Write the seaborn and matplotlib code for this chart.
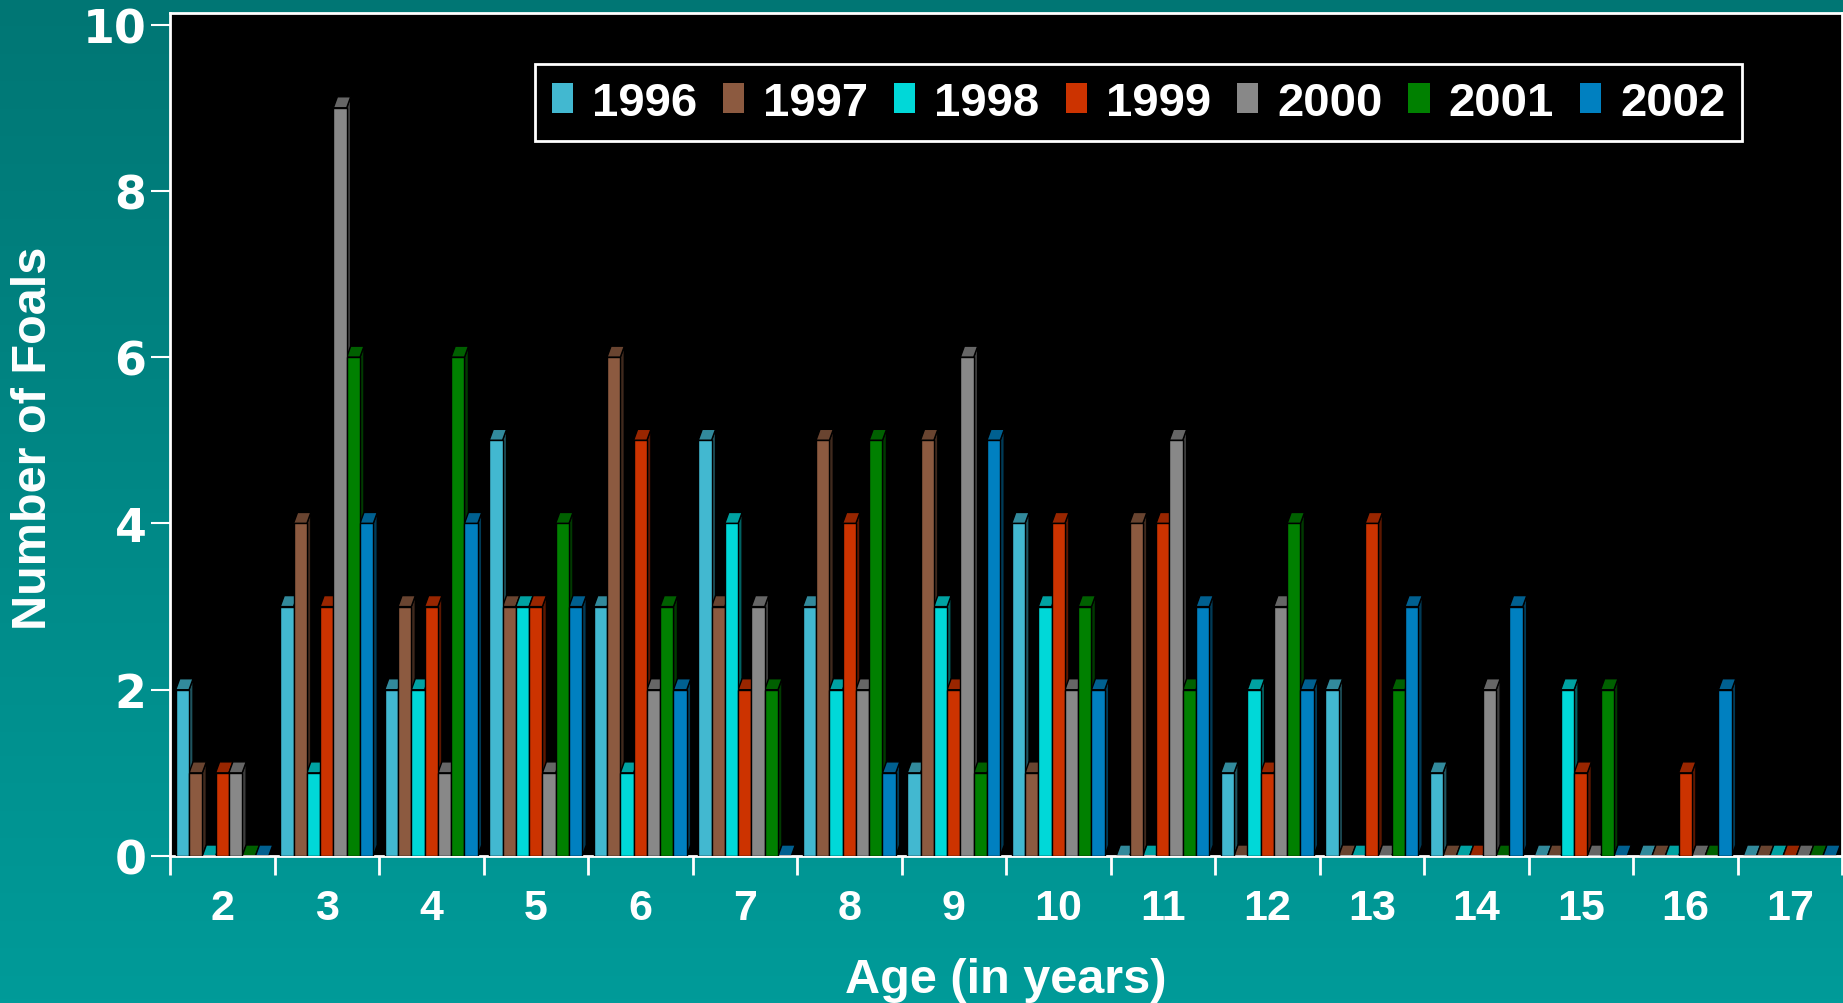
import matplotlib
matplotlib.use("Agg")
import matplotlib.pyplot as plt
import numpy as np
import pandas as pd
import seaborn as sns
from matplotlib.colors import LinearSegmentedColormap
from matplotlib.patches import Patch, Polygon

# data
ages = ["2", "3", "4", "5", "6", "7", "8", "9", "10", "11", "12", "13", "14", "15", "16", "17"]
years = ["1996", "1997", "1998", "1999", "2000", "2001", "2002"]
foals_1996 = [2, 3, 2, 5, 3, 5, 3, 1, 4, 0, 1, 2, 1, 0, 0, 0]
foals_1997 = [1, 4, 3, 3, 6, 3, 5, 5, 1, 4, 0, 0, 0, 0, 0, 0]
foals_1998 = [0, 1, 2, 3, 1, 4, 2, 3, 3, 0, 2, 0, 0, 2, 0, 0]
foals_1999 = [1, 3, 3, 3, 5, 2, 4, 2, 4, 4, 1, 4, 0, 1, 1, 0]
foals_2000 = [1, 9, 1, 1, 2, 3, 2, 6, 2, 5, 3, 0, 2, 0, 0, 0]
foals_2001 = [0, 6, 6, 4, 3, 2, 5, 1, 3, 2, 4, 2, 0, 2, 0, 0]
foals_2002 = [0, 4, 4, 3, 2, 0, 1, 5, 2, 3, 2, 3, 3, 0, 2, 0]
year_colors = ["#42b8d0", "#8c5a40", "#00d8d8", "#cc3300", "#888888", "#008000", "#0080c0"]

series = [foals_1996, foals_1997, foals_1998, foals_1999, foals_2000, foals_2001, foals_2002]
df = pd.DataFrame(
    [
        {"age": a, "year": y, "foals": v}
        for y, vals in zip(years, series)
        for a, v in zip(ages, vals)
    ]
)

W, H = 1843, 1004
fig = plt.figure(figsize=(W / 100, H / 100), dpi=100)

# teal gradient background
bg = fig.add_axes([0, 0, 1, 1], zorder=-1)
grad = np.linspace(0, 1, 256).reshape(-1, 1)
cmap = LinearSegmentedColormap.from_list("teal", ["#007674", "#009b99"])
bg.imshow(grad, aspect="auto", cmap=cmap, extent=[0, 1, 0, 1])
bg.axis("off")

left, right, top, base = 170, 1842, 14, 857
ax = fig.add_axes([left / W, 1 - base / H, (right - left) / W, (base - top) / H])
ax.set_facecolor("black")

sns.barplot(
    data=df, x="age", y="foals", hue="year", order=ages, hue_order=years,
    palette=year_colors, saturation=1, width=0.89, edgecolor="black",
    linewidth=1, legend=False, ax=ax,
)

ax.set_xlim(-0.5, len(ages) - 0.5)
ax.set_ylim(0, 10.14)

# fake 3d: top and side faces from each bar
dx = 4 / 104.5
dy = 11 / 83.1
for p in list(ax.patches):
    x, w, h = p.get_x(), p.get_width(), p.get_height()
    fc = np.array(p.get_facecolor()[:3])
    p.set_zorder(3)
    side = Polygon([(x + w, 0), (x + w, h), (x + w + dx, h + dy), (x + w + dx, dy)],
                   closed=True, facecolor=fc * 0.45, edgecolor="black", lw=1, zorder=2)
    topf = Polygon([(x, h), (x + w, h), (x + w + dx, h + dy), (x + dx, h + dy)],
                   closed=True, facecolor=fc * 0.75, edgecolor="black", lw=1, zorder=2)
    ax.add_patch(side)
    ax.add_patch(topf)

for s in ax.spines.values():
    s.set_color("white")
    s.set_linewidth(2)

ax.set_yticks([0, 2, 4, 6, 8, 10])
ax.tick_params(axis="y", colors="white", length=14, width=1.5, pad=3)
for t in ax.get_yticklabels():
    t.set_fontfamily("DejaVu Sans")
    t.set_fontweight("bold")
    t.set_fontsize(33)

ax.set_xticks(range(len(ages)))
ax.set_xticklabels(ages)
ax.set_xticks(np.arange(-0.5, len(ages), 1), minor=True)
ax.tick_params(axis="x", which="major", length=0, pad=23, colors="white")
ax.tick_params(axis="x", which="minor", length=14, width=2, color="white")
for t in ax.get_xticklabels():
    t.set_fontfamily("Liberation Sans")
    t.set_fontweight("bold")
    t.set_fontsize(31)

ax.set_xlabel("")
ax.set_ylabel("")

fig.text(1006 / W, 1 - 993 / H, "Age (in years)", ha="center", va="baseline",
         color="white", fontsize=35, fontweight="bold", family="Liberation Sans")
fig.text(34 / W, 1 - 438 / H, "Number of Foals", ha="center", va="center", rotation=90,
         color="white", fontsize=35, fontweight="bold", family="Liberation Sans")

handles = [Patch(facecolor=c, edgecolor="none") for c in year_colors]
leg = ax.legend(
    handles, years, ncol=7, loc="upper right", bbox_to_anchor=(0.940, 0.9395),
    frameon=True, fancybox=False, facecolor="black", edgecolor="white",
    handlelength=0.45, handleheight=0.6, handletextpad=0.40, columnspacing=0.55,
    borderpad=0.35, borderaxespad=0,
    prop={"family": "Liberation Sans", "weight": "bold", "size": 34},
)
leg.get_frame().set_linewidth(2)
leg.get_frame().set_alpha(1)
for t in leg.get_texts():
    t.set_color("white")
leg.set_zorder(10)

fig.savefig("out.png", dpi=100)
